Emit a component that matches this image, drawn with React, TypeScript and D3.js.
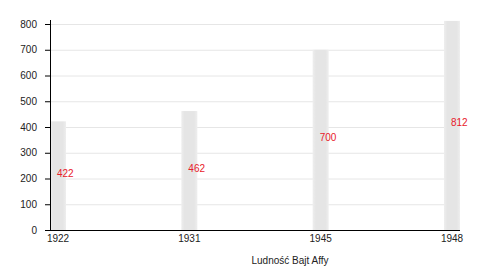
import React from "react";
import * as d3 from "d3";

const categories = ["1922", "1931", "1945", "1948"];
const values = [422, 462, 700, 812];
const yTicks = [0, 100, 200, 300, 400, 500, 600, 700, 800];
const axisTitle = "Ludność Bajt Affy";

const W = 500;
const H = 270;

export default function App() {
  const x = d3.scalePoint<string>().domain(categories).range([58, 452]);
  const y = d3.scaleLinear().domain([0, 800]).range([230, 24]);
  const barW = 16;
  const font = "'Liberation Sans', Arial, Helvetica, sans-serif";
  const x0 = 50;
  const x1 = 460;
  return (
    <svg
      width={W}
      height={H}
      style={{ position: "absolute", left: 0, top: 0 }}
      fontFamily={font}
    >
      <defs>
        <linearGradient id="barg" x1="0" x2="1" y1="0" y2="0">
          <stop offset="0" stopColor="#eeeeee" />
          <stop offset="0.2" stopColor="#e5e5e5" />
          <stop offset="0.8" stopColor="#e5e5e5" />
          <stop offset="1" stopColor="#eeeeee" />
        </linearGradient>
      </defs>
      {yTicks.map((t) => (
        <g key={t}>
          {t > 0 && (
            <line
              x1={x0 + 1}
              x2={x1}
              y1={y(t) + 0.5}
              y2={y(t) + 0.5}
              stroke="#e6e6e6"
              strokeWidth={1}
            />
          )}
          <line
            x1={x0 - 5}
            x2={x0}
            y1={y(t) + 0.5}
            y2={y(t) + 0.5}
            stroke="#000"
            strokeWidth={1}
          />
          <text
            x={x0 - 13}
            y={y(t)}
            dy="0.35em"
            textAnchor="end"
            fontSize={10}
            fill="#222"
          >
            {t}
          </text>
        </g>
      ))}
      {categories.map((c, i) => (
        <rect
          key={c}
          x={(x(c) as number) - barW / 2}
          y={y(values[i])}
          width={barW}
          height={y(0) - y(values[i])}
          fill="url(#barg)"
        />
      ))}
      <line x1={x0 + 0.5} x2={x0 + 0.5} y1={20} y2={230} stroke="#000" strokeWidth={1} />
      <line x1={x0} x2={x1} y1={230.5} y2={230.5} stroke="#000" strokeWidth={1} />
      {categories.map((c) => (
        <text
          key={c}
          x={x(c) as number}
          y={242}
          textAnchor="middle"
          fontSize={10}
          fill="#222"
        >
          {c}
        </text>
      ))}
      {categories.map((c, i) => (
        <text
          key={"v" + c}
          x={(x(c) as number) - 1}
          y={(y(values[i]) + y(0)) / 2}
          dy="0.1em"
          textAnchor="start"
          fontSize={10}
          fill="#e8202a"
        >
          {values[i]}
        </text>
      ))}
      <text x={290} y={264} textAnchor="middle" fontSize={10} fill="#222">
        {axisTitle}
      </text>
    </svg>
  );
}
